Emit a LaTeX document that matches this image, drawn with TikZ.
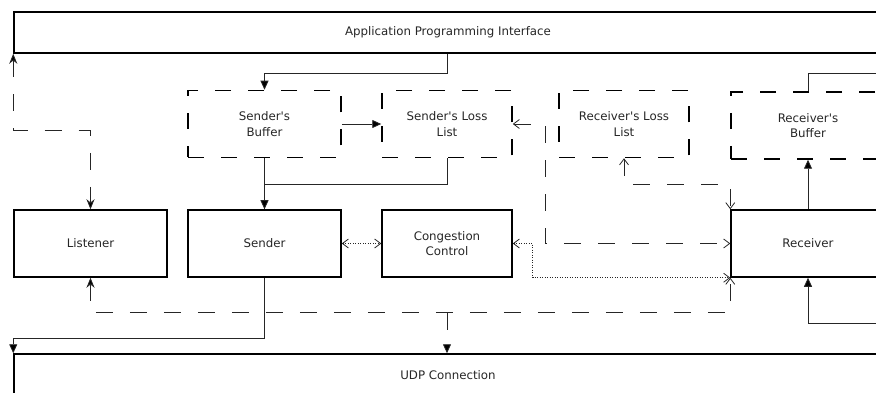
\documentclass[tikz,border=0pt]{standalone}
\usepackage{fontspec}
\setmainfont{DejaVu Sans}
\usetikzlibrary{arrows.meta,positioning}

\begin{document}
\begin{tikzpicture}[x=1pt, y=-1pt,
    every node/.style={font=\fontsize{11.8}{15.5}\selectfont, text=black!85},
    layer/.style={draw, line width=1.5pt, minimum width=868pt, minimum height=41pt},
    block/.style={draw, line width=1.5pt, minimum width=153pt, minimum height=67pt, align=center},
    small/.style={block, minimum width=130pt},
    buffer/.style={block, dash pattern=on 16pt off 17pt},
    smallbuffer/.style={small, dash pattern=on 16pt off 17pt},
    link/.style={draw=black!85, line width=0.8pt},
    flow/.style={link, -{Triangle[length=9pt,width=8pt,fill=black]}},
    ctl/.style={link, dash pattern=on 17pt off 17pt},
    dot/.style={link, dash pattern=on 1pt off 1.5pt},
    barb/.tip={Straight Barb[length=6pt,width=9pt]},
    stl/.tip={Stealth[length=10pt,width=8pt,fill=black]}]
  \useasboundingbox (0,0) rectangle (876,393);
  \clip (0,0) rectangle (876,393);

  % top and bottom layers run past the right edge
  \node[layer] (api) at (448,32.5) {Application Programming Interface};
  \node[layer, minimum height=42pt] (udp) at (448,375) {UDP Connection};

  % buffers and loss lists
  \node[buffer] (sbuf) at (264.5,124) {Sender\textquotesingle s\\Buffer};
  \node[smallbuffer] (sloss) at (447,124) {Sender\textquotesingle s Loss\\List};
  \node[smallbuffer] (rloss) at (624,124) {Receiver\textquotesingle s Loss\\List};
  \node[buffer, minimum width=154pt] (rbuf) at (808,125.5) {Receiver\textquotesingle s\\Buffer};

  % main blocks
  \node[block] (listener) at (90.5,243.5) {Listener};
  \node[block] (sender) at (264.5,243.5) {Sender};
  \node[small] (cc) at (447,243.5) {Congestion\\Control};
  \node[block, minimum width=154pt] (receiver) at (808,243.5) {Receiver};

  \coordinate (rbufout) at (880,73);
  \coordinate (rcvin) at (880,323);

  % data path
  \draw[flow] (api.south -| sloss) -- ++(0,19.5) -| (sbuf.north);
  \draw[flow] (sbuf) -- (sloss);
  \draw[link] (sloss.south) -- ++(0,26) -| (sender.north);
  \draw[flow] (sbuf) -- (sender);
  \draw[flow] (sender.south) -- ++(0,61) -| (udp.north west);
  \draw[flow] (receiver) -- (rbuf);
  \draw[link] (rbuf.north) |- (rbufout);
  \draw[flow] (rcvin) -| (receiver.south);

  % control path
  \draw[ctl, stl-stl] (api.south west) -- ++(0,77) -| (listener.north);
  \draw[ctl, stl-barb] (listener.south) -- ++(0,35) coordinate (bus) -| (receiver.south west);
  \draw[ctl, -{Triangle[length=9pt,width=8pt,fill=black]}] (bus -| cc) -- (udp.north -| cc);
  \draw[ctl, barb-barb] (sloss.east) -- ++(33,0) |- (receiver.west);
  \draw[ctl, barb-barb] (rloss.south) -- ++(0,26) -| (receiver.north west);
  \draw[dot, barb-barb] (sender) -- (cc);
  \draw[dot, barb-barb] (cc.east) -- ++(20,0) |- (receiver.south west);
\end{tikzpicture}
\end{document}
